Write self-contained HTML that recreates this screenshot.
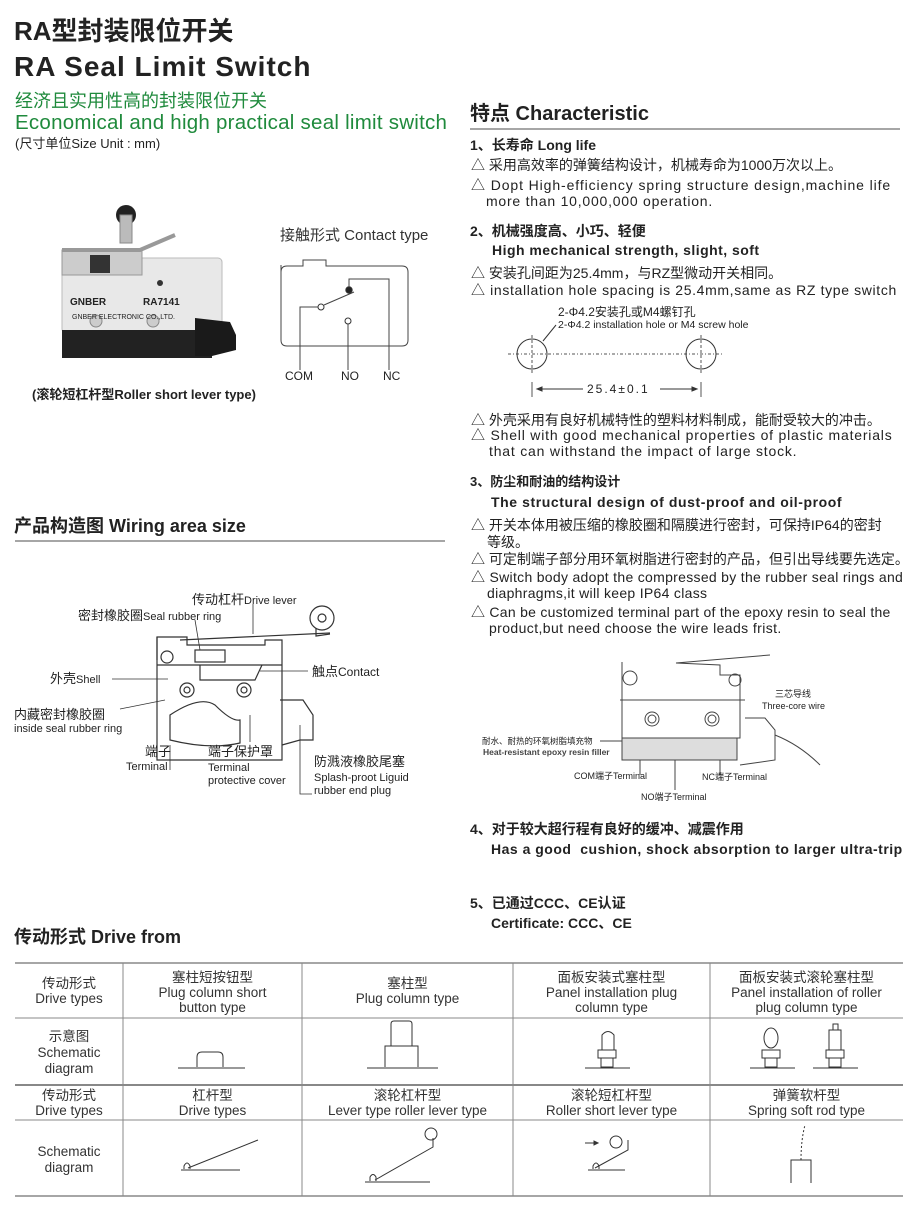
<!DOCTYPE html>
<html><head><meta charset="utf-8"><style>
body{margin:0;background:#fff}
#p{position:relative;width:916px;height:1210px;overflow:hidden;font-family:"Liberation Sans","Noto Sans CJK SC",sans-serif;color:#222}
.t{position:absolute;white-space:nowrap;line-height:1}
.b{font-weight:bold}
.g{color:#1f8a3c}
.s{font-size:14px}
svg{position:absolute;left:0;top:0}
.tc{position:absolute;text-align:center;font-size:13.5px;line-height:15px;color:#333}
</style></head><body><div id="p">
<svg width="916" height="1210" viewBox="0 0 916 1210" fill="none" stroke="#333" stroke-width="1">
<rect x="62" y="258" width="160" height="75" rx="4" fill="#e8e8e8" stroke="#bbb"/>
<rect x="62" y="330" width="150" height="28" fill="#222" stroke="none"/>
<path d="M195 318 L230 322 L236 335 L236 350 L212 356 L195 356Z" fill="#1a1a1a" stroke="none"/>
<rect x="62" y="250" width="80" height="25" fill="#ccc" stroke="#999"/>
<path d="M62 250 L140 250 L175 235" stroke="#999" stroke-width="4"/>
<rect x="90" y="255" width="20" height="18" fill="#333" stroke="none"/>
<circle cx="126" cy="215" r="10" fill="#222" stroke="none"/>
<rect x="120" y="215" width="12" height="28" fill="#bbb" stroke="#888"/>
<circle cx="160" cy="283" r="3" fill="#333" stroke="none"/>
<circle cx="96" cy="321" r="6" fill="#ccc" stroke="#888"/>
<circle cx="153" cy="321" r="6" fill="#ccc" stroke="#888"/>
<path d="M281 265 L281 340 Q281 346 287 346 L402 346 Q408 346 408 340 L408 272 Q408 266 402 266 L326 266 L326 260 L303 260 L303 266 L287 266 Q281 266 281 272" stroke="#444"/>
<path d="M300 370 L300 307 L318 307" stroke="#444"/><circle cx="321" cy="307" r="3" fill="#fff"/>
<path d="M324 305 L354 292" stroke="#444"/><circle cx="349" cy="290" r="3.2" fill="#222"/>
<path d="M349 287 L349 279 L389 279 L389 370" stroke="#444"/>
<circle cx="348" cy="321" r="3" fill="#fff"/><path d="M348 324 L348 370" stroke="#444"/>
<path d="M15 541 L445 541" stroke="#888" stroke-width="1.5"/>
<path d="M470 129 L900 129" stroke="#888" stroke-width="1.5"/>
<path d="M508 354 L722 354" stroke="#555" stroke-dasharray="3 2 1 2"/>
<circle cx="532" cy="354" r="15"/><circle cx="701" cy="354" r="15"/>
<path d="M532 335 L532 375 M701 335 L701 375" stroke="#555" stroke-dasharray="3 2"/>
<path d="M532 382 L532 397 M701 382 L701 397" stroke="#555"/>
<path d="M538 389 L583 389 M660 389 L696 389" stroke="#333"/>
<path d="M537 389 l5 -2 v4z M697 389 l-5 -2 v4z" fill="#333"/>
<path d="M543 341 L556 325" stroke="#333"/>
<g stroke="#333" stroke-width="1.2">
<path d="M157 645 L157 760 L282 760 L282 640 L265 640 L265 645 L187 645 L187 637 L157 637 Z"/>
<path d="M157 665 L282 665"/>
<path d="M157 637 L157 660 M180 640 L330 633"/>
<circle cx="322" cy="618" r="12"/><circle cx="322" cy="618" r="4"/>
<path d="M316 628 L316 636 L330 634"/>
<circle cx="167" cy="657" r="6"/>
<circle cx="187" cy="690" r="7"/><circle cx="187" cy="690" r="3"/>
<circle cx="244" cy="690" r="7"/><circle cx="244" cy="690" r="3"/>
<path d="M170 715 Q200 695 215 705 Q232 722 240 720 L240 743 Q210 750 170 740Z"/>
<path d="M280 700 L303 700 L313 715 L313 740 L300 740 L282 745"/>
<path d="M200 665 L200 680 L255 680 L262 665"/>
<rect x="195" y="650" width="30" height="12"/>
</g>
<g stroke="#333" stroke-width="0.8">
<path d="M253 604 L253 634 M195 620 L200 650 M112 679 L168 679 M120 709 L165 700 M170 745 L170 770 M250 715 L250 742 M300 725 L300 794 L312 794 M260 671 L308 671"/>
</g>
<g stroke="#444" stroke-width="1">
<path d="M622 662 L622 738 L740 738 L740 675 L720 675 L720 665 L676 663 L770 655"/>
<path d="M620 700 L745 700"/>
<circle cx="630" cy="678" r="7"/><circle cx="735" cy="680" r="6"/>
<circle cx="652" cy="719" r="7"/><circle cx="652" cy="719" r="4"/>
<circle cx="712" cy="719" r="7"/><circle cx="712" cy="719" r="4"/>
<rect x="622" y="738" width="115" height="22" fill="#ddd" stroke="#444"/>
<path d="M745 718 L765 718 L775 730 L775 760 L740 765 M775 735 Q800 745 820 765"/>
<path d="M640 760 L640 775 M675 760 L675 790 M720 760 L720 775"/>
<path d="M600 741 L622 741"/>
</g>
<g stroke="#888">
<path d="M15 963 L903 963 M15 1196 L903 1196" stroke-width="1.5"/>
<path d="M15 1018 L903 1018 M15 1120 L903 1120"/>
<path d="M15 1085 L903 1085" stroke-width="2"/>
<path d="M123 963 V1196 M302 963 V1196 M513 963 V1196 M710 963 V1196"/>
</g>
<g stroke="#333" stroke-width="1">
<path d="M178 1068 L245 1068 M367 1068 L438 1068 M585 1068 L630 1068 M750 1068 L795 1068 M813 1068 L858 1068"/>
<path d="M197 1067 V1057 Q197 1052 202 1052 L218 1052 Q223 1052 223 1057 V1067"/>
<path d="M385 1067 V1046 H418 V1067 M391 1046 V1024 Q391 1021 394 1021 H409 Q412 1021 412 1024 V1046"/>
<rect x="601" y="1058" width="12" height="9"/><rect x="598" y="1050" width="18" height="8"/><path d="M602 1050 V1035 Q608 1028 614 1035 V1050"/>
<rect x="765" y="1058" width="12" height="9"/><rect x="762" y="1050" width="18" height="8"/><ellipse cx="771" cy="1038" rx="7" ry="10"/>
<rect x="829" y="1058" width="12" height="9"/><rect x="826" y="1050" width="18" height="8"/><path d="M829 1050 V1030 H841 V1050 M833 1030 V1024 H838 V1030"/>
<path d="M181 1170 L240 1170 M188 1168 L258 1140"/><path d="M184 1169 V1166 Q187 1160 190 1166 V1169"/>
<path d="M365 1182 L430 1182 M375 1180 L433 1147 V1138"/><circle cx="431" cy="1134" r="6"/><path d="M370 1181 V1177 Q373 1172 376 1177 V1181"/>
<path d="M588 1170 L625 1170 M595 1168 L628 1150 V1140"/><circle cx="616" cy="1142" r="6"/><path d="M593 1169 V1166 Q596 1160 599 1166 V1169"/>
<path d="M585 1143 L598 1143"/><path d="M598 1143 l-4 -2 v4z" fill="#333"/>
<path d="M791 1183 V1160 H811 V1183"/><path d="M801 1160 Q801 1140 805 1125" stroke-dasharray="2 2"/>
</g>
</svg>

<div class="t b" style="left:14px;top:18px;font-size:26px">RA型封装限位开关</div>
<div class="t b" style="left:14px;top:53px;font-size:28px;letter-spacing:1px">RA Seal Limit Switch</div>
<div class="t g" style="left:15px;top:92px;font-size:18px">经济且实用性高的封装限位开关</div>
<div class="t g" style="left:15px;top:113px;font-size:20.5px;letter-spacing:0.25px">Economical and high practical seal limit switch</div>
<div class="t" style="left:15px;top:137px;font-size:13px">(尺寸单位Size Unit : mm)</div>
<div class="t" style="left:280px;top:228px;font-size:15px;color:#333">接触形式 Contact type</div>
<div class="t" style="left:285px;top:370px;font-size:12px">COM</div>
<div class="t" style="left:341px;top:370px;font-size:12px">NO</div>
<div class="t" style="left:383px;top:370px;font-size:12px">NC</div>
<div class="t b" style="left:32px;top:388px;font-size:13px">(滚轮短杠杆型Roller short lever type)</div>
<div class="t" style="left:72px;top:314px;font-size:7px">GNBER ELECTRONIC CO.,LTD.</div>
<div class="t b" style="left:70px;top:298px;font-size:10px">GNBER</div>
<div class="t b" style="left:143px;top:298px;font-size:10px">RA7141</div>

<div class="t b" style="left:14px;top:517px;font-size:18px">产品构造图 Wiring area size</div>
<div class="t" style="left:192px;top:593px;font-size:13px">传动杠杆<span style="font-size:11px">Drive lever</span></div>
<div class="t" style="left:78px;top:609px;font-size:13px">密封橡胶圈<span style="font-size:11px">Seal rubber ring</span></div>
<div class="t" style="left:312px;top:665px;font-size:13px">触点<span style="font-size:12px">Contact</span></div>
<div class="t" style="left:50px;top:672px;font-size:13px">外壳<span style="font-size:11px">Shell</span></div>
<div class="t" style="left:14px;top:708px;font-size:13px">内藏密封橡胶圈</div>
<div class="t" style="left:14px;top:724px;font-size:11px">inside seal rubber ring</div>
<div class="t" style="left:145px;top:745px;font-size:13px">端子</div>
<div class="t" style="left:126px;top:762px;font-size:11px">Terminal</div>
<div class="t" style="left:208px;top:745px;font-size:13px">端子保护罩</div>
<div class="t" style="left:208px;top:762px;font-size:11px;line-height:13px">Terminal<br>protective cover</div>
<div class="t" style="left:314px;top:755px;font-size:13px">防溅液橡胶尾塞</div>
<div class="t" style="left:314px;top:772px;font-size:11px;line-height:13px">Splash-proot Liguid<br>rubber end plug</div>

<div class="t b" style="left:470px;top:104px;font-size:20px">特点 Characteristic</div>
<div class="t b s" style="left:470px;top:138px">1、长寿命 Long life</div>
<div class="t s" style="left:471px;top:158px">△ 采用高效率的弹簧结构设计，机械寿命为1000万次以上。</div>
<div class="t s" style="left:471px;top:178px;letter-spacing:0.9px">△ Dopt High-efficiency spring structure design,machine life</div>
<div class="t s" style="left:486px;top:194px;letter-spacing:0.77px">more than 10,000,000 operation.</div>
<div class="t b s" style="left:470px;top:224px">2、机械强度高、小巧、轻便</div>
<div class="t b s" style="left:492px;top:243px;letter-spacing:0.47px">High mechanical strength, slight, soft</div>
<div class="t s" style="left:471px;top:266px">△ 安装孔间距为25.4mm，与RZ型微动开关相同。</div>
<div class="t s" style="left:471px;top:283px;letter-spacing:0.64px">△ installation hole spacing is 25.4mm,same as RZ type switch</div>
<div class="t" style="left:558px;top:306px;font-size:12px">2-Φ4.2安装孔或M4螺钉孔</div>
<div class="t" style="left:558px;top:320px;font-size:10.5px">2-Φ4.2 installation hole or M4 screw hole</div>
<div class="t" style="left:587px;top:383px;font-size:12px;letter-spacing:2px">25.4±0.1</div>
<div class="t s" style="left:471px;top:413px">△ 外壳采用有良好机械特性的塑料材料制成，能耐受较大的冲击。</div>
<div class="t s" style="left:471px;top:428px;letter-spacing:0.8px">△ Shell with good mechanical properties of plastic materials</div>
<div class="t s" style="left:489px;top:444px;letter-spacing:0.8px">that can withstand the impact of large stock.</div>
<div class="t b" style="left:470px;top:475px;font-size:13px">3、防尘和耐油的结构设计</div>
<div class="t b s" style="left:491px;top:495px;letter-spacing:0.58px">The structural design of dust-proof and oil-proof</div>
<div class="t s" style="left:471px;top:518px">△ 开关本体用被压缩的橡胶圈和隔膜进行密封，可保持IP64的密封</div>
<div class="t s" style="left:487px;top:535px">等级。</div>
<div class="t s" style="left:471px;top:552px">△ 可定制端子部分用环氧树脂进行密封的产品，但引出导线要先选定。</div>
<div class="t s" style="left:471px;top:570px;letter-spacing:0.3px">△ Switch body adopt the compressed by the rubber seal rings and</div>
<div class="t s" style="left:487px;top:586px;letter-spacing:0.3px">diaphragms,it will keep IP64 class</div>
<div class="t s" style="left:471px;top:605px;letter-spacing:0.27px">△ Can be customized terminal part of the epoxy resin to seal the</div>
<div class="t s" style="left:489px;top:621px;letter-spacing:0.4px">product,but need choose the wire leads frist.</div>
<div class="t" style="left:775px;top:690px;font-size:9px">三芯导线</div>
<div class="t" style="left:762px;top:702px;font-size:9px">Three-core wire</div>
<div class="t" style="left:482px;top:737px;font-size:8.5px">耐水、耐热的环氧树脂填充物</div>
<div class="t b" style="left:483px;top:748px;font-size:8.5px;color:#444">Heat-resistant epoxy resin filler</div>
<div class="t" style="left:574px;top:772px;font-size:9px">COM端子Terminal</div>
<div class="t" style="left:702px;top:773px;font-size:9px">NC端子Terminal</div>
<div class="t" style="left:641px;top:793px;font-size:9px">NO端子Terminal</div>
<div class="t b s" style="left:470px;top:822px">4、对于较大超行程有良好的缓冲、减震作用</div>
<div class="t b s" style="left:491px;top:842px;letter-spacing:0.5px">Has a good &nbsp;cushion, shock absorption to larger ultra-trip</div>
<div class="t b s" style="left:470px;top:896px">5、已通过CCC、CE认证</div>
<div class="t b s" style="left:491px;top:916px">Certificate: CCC、CE</div>

<div class="t b" style="left:14px;top:928px;font-size:18px">传动形式 Drive from</div>
<div class="tc" style="left:15px;width:108px;top:976px">传动形式<br>Drive types</div>
<div class="tc" style="left:123px;width:179px;top:970px">塞柱短按钮型<br>Plug column short<br>button type</div>
<div class="tc" style="left:302px;width:211px;top:976px">塞柱型<br>Plug column type</div>
<div class="tc" style="left:513px;width:197px;top:970px">面板安装式塞柱型<br>Panel installation plug<br>column type</div>
<div class="tc" style="left:710px;width:193px;top:970px">面板安装式滚轮塞柱型<br>Panel installation of roller<br>plug column type</div>
<div class="tc" style="left:15px;width:108px;top:1029px;line-height:16px">示意图<br>Schematic<br>diagram</div>
<div class="tc" style="left:15px;width:108px;top:1088px">传动形式<br>Drive types</div>
<div class="tc" style="left:123px;width:179px;top:1088px">杠杆型<br>Drive types</div>
<div class="tc" style="left:302px;width:211px;top:1088px">滚轮杠杆型<br>Lever type roller lever type</div>
<div class="tc" style="left:513px;width:197px;top:1088px">滚轮短杠杆型<br>Roller short lever type</div>
<div class="tc" style="left:710px;width:193px;top:1088px">弹簧软杆型<br>Spring soft rod type</div>
<div class="tc" style="left:15px;width:108px;top:1144px;line-height:16px">Schematic<br>diagram</div>
</div></body></html>
